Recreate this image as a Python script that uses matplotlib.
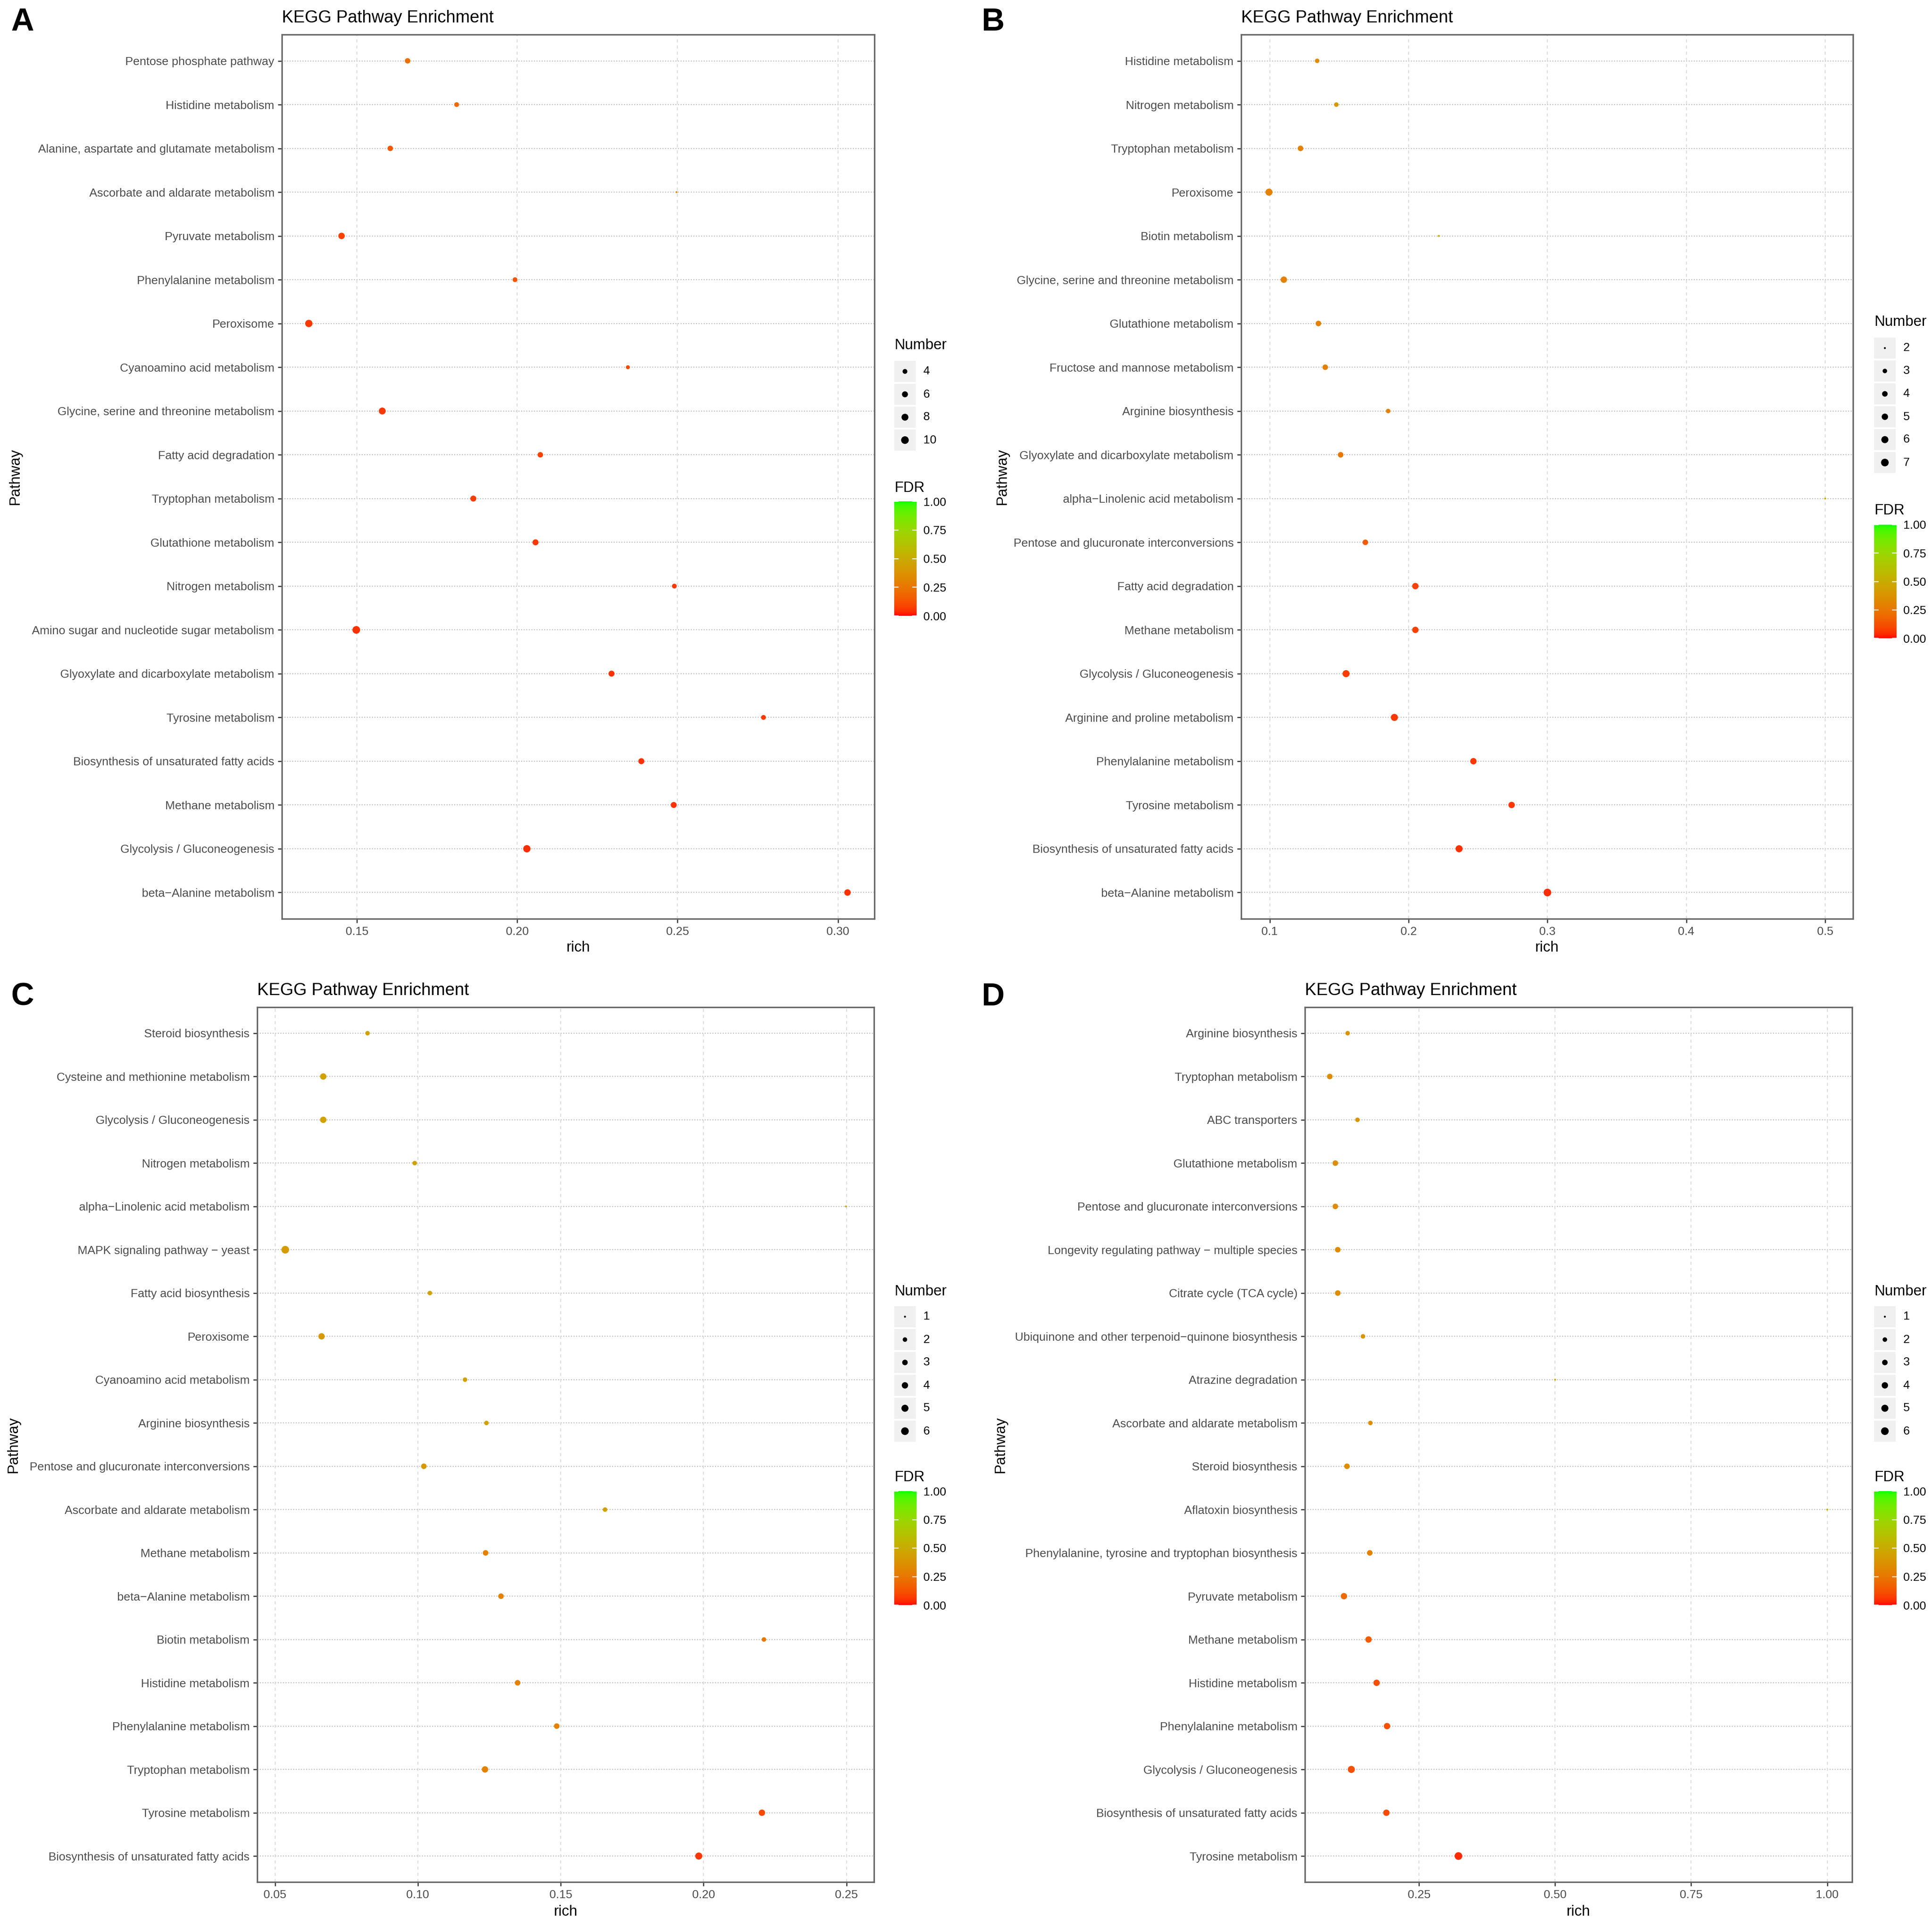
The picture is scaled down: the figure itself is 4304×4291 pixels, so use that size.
import numpy as np
import matplotlib
matplotlib.use("Agg")
import matplotlib.pyplot as plt
from matplotlib.colors import ListedColormap, Normalize
from matplotlib.cm import ScalarMappable
from matplotlib.patches import Rectangle

plt.rcParams['font.family'] = ['Liberation Sans', 'DejaVu Sans']

# ---------------- DATA ----------------
# Panel A (top to bottom)
a_path = ["Pentose phosphate pathway", "Histidine metabolism",
          "Alanine, aspartate and glutamate metabolism", "Ascorbate and aldarate metabolism",
          "Pyruvate metabolism", "Phenylalanine metabolism", "Peroxisome",
          "Cyanoamino acid metabolism", "Glycine, serine and threonine metabolism",
          "Fatty acid degradation", "Tryptophan metabolism", "Glutathione metabolism",
          "Nitrogen metabolism", "Amino sugar and nucleotide sugar metabolism",
          "Glyoxylate and dicarboxylate metabolism", "Tyrosine metabolism",
          "Biosynthesis of unsaturated fatty acids", "Methane metabolism",
          "Glycolysis / Gluconeogenesis", "beta\u2212Alanine metabolism"]
a_rich = [0.1658, 0.1811, 0.1604, 0.2497, 0.1452, 0.1993, 0.1350, 0.2345, 0.1579, 0.2072,
          0.1863, 0.2057, 0.2490, 0.1498, 0.2294, 0.2768, 0.2387, 0.2488, 0.2030, 0.3030]
a_num = [5, 4, 5, 2, 7, 4, 9, 3, 8, 5, 6, 6, 4, 10, 6, 4, 6, 6, 9, 7]
a_fdr = [0.22, 0.20, 0.14, 0.38, 0.08, 0.13, 0.06, 0.10, 0.06, 0.08,
         0.07, 0.06, 0.06, 0.05, 0.05, 0.06, 0.05, 0.05, 0.04, 0.05]
a_xticks = [0.15, 0.20, 0.25, 0.30]
a_xticklabels = ["0.15", "0.20", "0.25", "0.30"]
a_breaks = [4, 6, 8, 10]

# Panel B
b_path = ["Histidine metabolism", "Nitrogen metabolism", "Tryptophan metabolism", "Peroxisome",
          "Biotin metabolism", "Glycine, serine and threonine metabolism",
          "Glutathione metabolism", "Fructose and mannose metabolism", "Arginine biosynthesis",
          "Glyoxylate and dicarboxylate metabolism", "alpha\u2212Linolenic acid metabolism",
          "Pentose and glucuronate interconversions", "Fatty acid degradation",
          "Methane metabolism", "Glycolysis / Gluconeogenesis", "Arginine and proline metabolism",
          "Phenylalanine metabolism", "Tyrosine metabolism",
          "Biosynthesis of unsaturated fatty acids", "beta\u2212Alanine metabolism"]
b_rich = [0.1342, 0.1480, 0.1222, 0.0995, 0.2218, 0.1102, 0.1351, 0.1400, 0.1853, 0.1511,
          0.5000, 0.1689, 0.2049, 0.2049, 0.1550, 0.1898, 0.2467, 0.2742, 0.2364, 0.3000]
b_num = [3, 3, 4, 6, 2, 5, 4, 4, 3, 4, 2, 4, 5, 5, 6, 6, 5, 5, 6, 7]
b_fdr = [0.35, 0.40, 0.30, 0.30, 0.50, 0.30, 0.30, 0.30, 0.30, 0.25,
         0.50, 0.15, 0.08, 0.08, 0.07, 0.06, 0.06, 0.06, 0.05, 0.04]
b_xticks = [0.1, 0.2, 0.3, 0.4, 0.5]
b_xticklabels = ["0.1", "0.2", "0.3", "0.4", "0.5"]
b_breaks = [2, 3, 4, 5, 6, 7]

# Panel C
c_path = ["Steroid biosynthesis", "Cysteine and methionine metabolism",
          "Glycolysis / Gluconeogenesis", "Nitrogen metabolism",
          "alpha\u2212Linolenic acid metabolism", "MAPK signaling pathway \u2212 yeast",
          "Fatty acid biosynthesis", "Peroxisome", "Cyanoamino acid metabolism",
          "Arginine biosynthesis", "Pentose and glucuronate interconversions",
          "Ascorbate and aldarate metabolism", "Methane metabolism", "beta\u2212Alanine metabolism",
          "Biotin metabolism", "Histidine metabolism", "Phenylalanine metabolism",
          "Tryptophan metabolism", "Tyrosine metabolism", "Biosynthesis of unsaturated fatty acids"]
c_rich = [0.0824, 0.0669, 0.0669, 0.0989, 0.2498, 0.0536, 0.1042, 0.0663, 0.1165, 0.1240,
          0.1021, 0.1655, 0.1237, 0.1291, 0.2211, 0.1349, 0.1486, 0.1235, 0.2204, 0.1983]
c_num = [2, 4, 4, 2, 1, 6, 2, 4, 2, 2, 3, 2, 3, 3, 2, 3, 3, 4, 4, 5]
c_fdr = [0.45, 0.45, 0.45, 0.45, 0.50, 0.42, 0.45, 0.40, 0.45, 0.45,
         0.40, 0.45, 0.30, 0.30, 0.25, 0.30, 0.30, 0.30, 0.10, 0.06]
c_xticks = [0.05, 0.10, 0.15, 0.20, 0.25]
c_xticklabels = ["0.05", "0.10", "0.15", "0.20", "0.25"]
c_breaks = [1, 2, 3, 4, 5, 6]

# Panel D
d_path = ["Arginine biosynthesis", "Tryptophan metabolism", "ABC transporters",
          "Glutathione metabolism", "Pentose and glucuronate interconversions",
          "Longevity regulating pathway \u2212 multiple species", "Citrate cycle (TCA cycle)",
          "Ubiquinone and other terpenoid\u2212quinone biosynthesis", "Atrazine degradation",
          "Ascorbate and aldarate metabolism", "Steroid biosynthesis", "Aflatoxin biosynthesis",
          "Phenylalanine, tyrosine and tryptophan biosynthesis", "Pyruvate metabolism",
          "Methane metabolism", "Histidine metabolism", "Phenylalanine metabolism",
          "Glycolysis / Gluconeogenesis", "Biosynthesis of unsaturated fatty acids",
          "Tyrosine metabolism"]
d_rich = [0.1188, 0.0860, 0.1369, 0.0962, 0.0962, 0.1007, 0.1007, 0.1470, 0.5000, 0.1606,
          0.1176, 1.0000, 0.1595, 0.1120, 0.1572, 0.1720, 0.1912, 0.1256, 0.1900, 0.3224]
d_num = [2, 3, 2, 3, 3, 3, 3, 2, 1, 2, 3, 1, 3, 4, 4, 4, 4, 5, 4, 6]
d_fdr = [0.38, 0.35, 0.38, 0.35, 0.35, 0.35, 0.35, 0.38, 0.50, 0.35,
         0.35, 0.55, 0.30, 0.20, 0.15, 0.12, 0.12, 0.12, 0.10, 0.04]
d_xticks = [0.25, 0.50, 0.75, 1.00]
d_xticklabels = ["0.25", "0.50", "0.75", "1.00"]
d_breaks = [1, 2, 3, 4, 5, 6]

fdr_ticks = [0.0, 0.25, 0.5, 0.75, 1.0]
fdr_ticklabels = ["0.00", "0.25", "0.50", "0.75", "1.00"]

# ---------------- colour scale (ggplot-like Lab gradient red -> green) ----------------
_M = np.array([[0.4124564, 0.3575761, 0.1804375],
               [0.2126729, 0.7151522, 0.0721750],
               [0.0193339, 0.1191920, 0.9503041]])
_Minv = np.linalg.inv(_M)
_wp = np.array([0.95047, 1.0, 1.08883])
_d = 6 / 29


def _to_lab(rgb):
    c = np.asarray(rgb, float)
    lin = np.where(c <= 0.04045, c / 12.92, ((c + 0.055) / 1.055) ** 2.4)
    xyz = _M @ lin / _wp
    f = np.where(xyz > _d ** 3, np.cbrt(xyz), xyz / (3 * _d ** 2) + 4 / 29)
    return np.array([116 * f[1] - 16, 500 * (f[0] - f[1]), 200 * (f[1] - f[2])])


def _from_lab(lab):
    L, a, b = lab
    fy = (L + 16) / 116
    f = np.array([fy + a / 500, fy, fy - b / 200])
    xyz = np.where(f > _d, f ** 3, 3 * _d ** 2 * (f - 4 / 29)) * _wp
    lin = np.clip(_Minv @ xyz, 0, 1)
    c = np.where(lin <= 0.0031308, 12.92 * lin, 1.055 * lin ** (1 / 2.4) - 0.055)
    return np.clip(c, 0, 1)


_lo, _hi = _to_lab([1, 0, 0]), _to_lab([0, 1, 0])
cmap = ListedColormap([_from_lab(_lo + t * (_hi - _lo)) for t in np.linspace(0, 1, 256)])
norm = Normalize(0, 1)

# ---------------- layout ----------------
W, H = 4304, 4291
DPI = 300
fig = plt.figure(figsize=(W / DPI, H / DPI), dpi=DPI)
fig.patch.set_facecolor("white")


def fx(x):
    return x / W


def fy(y):
    return 1 - y / H


TICK_FS = 6.3
TITLE_FS = 9.2
AXT_FS = 7.9
GREY30 = "#4D4D4D"
K = 2.55  # px per ggplot size unit


def sizes(vals, lo, hi):
    v = np.asarray(vals, float)
    d_units = 1 + 5 * np.sqrt((v - lo) / (hi - lo)) + 0.7
    d_pt = d_units * K * 72 / DPI
    return d_pt ** 2


def panel(path, rich, num, fdr, xticks, xticklabels, breaks, letter, L):
    x0, y0, x1, y1 = L["ax"]
    ax = fig.add_axes([fx(x0), fy(y1), fx(x1 - x0), (y1 - y0) / H])
    n = len(path)
    ypos = np.arange(n)[::-1]
    lo, hi = min(num), max(num)
    ax.set_axisbelow(True)
    ax.scatter(rich, ypos, s=sizes(num, lo, hi), c=fdr, cmap=cmap, norm=norm,
               edgecolors="none", zorder=3)
    rmin, rmax = min(rich), max(rich)
    pad = 0.05 * (rmax - rmin)
    ax.set_xlim(rmin - pad, rmax + pad)
    ax.set_ylim(-0.6, n - 1 + 0.6)
    ax.set_yticks(ypos)
    ax.set_yticklabels(path)
    ax.set_xticks(xticks)
    ax.set_xticklabels(xticklabels)
    ax.tick_params(axis="both", labelsize=TICK_FS, labelcolor=GREY30, color="#333333",
                   length=2.2, width=0.6, pad=1.8)
    for y in ypos:
        ax.axhline(y, color="#BDBDBD", lw=0.55, ls=(0, (1, 1.5)), zorder=1)
    for xt in xticks:
        ax.axvline(xt, color="#DDDDDD", lw=0.55, ls=(0, (3, 3)), zorder=1)
    for sp in ax.spines.values():
        sp.set_color("#666666")
        sp.set_linewidth(0.8)
    # texts
    tx, ty = L["title"]
    fig.text(fx(tx), fy(ty), "KEGG Pathway Enrichment", fontsize=TITLE_FS,
             ha="left", va="center", color="black")
    lx, ly = L["letter"]
    fig.text(fx(lx), fy(ly), letter, fontsize=17, fontweight="bold",
             ha="left", va="center", color="black")
    fig.text(fx(L["ylab"]), fy((y0 + y1) / 2), "Pathway", fontsize=AXT_FS,
             rotation=90, ha="center", va="center", color="black")
    fig.text(fx((x0 + x1) / 2), fy(L["xlab"]), "rich", fontsize=AXT_FS,
             ha="center", va="center", color="black")
    # size legend
    gx = L["leg_x"]
    fig.text(fx(gx), fy(L["num_title"]), "Number", fontsize=AXT_FS,
             ha="left", va="center", color="black")
    rows = len(breaks)
    rh = 51
    ktop = L["key_top"]
    lax = fig.add_axes([fx(gx), fy(ktop + rows * rh), fx(48), rows * rh / H])
    lax.set_xlim(0, 1)
    lax.set_ylim(rows, 0)
    lax.axis("off")
    for i, bv in enumerate(breaks):
        lax.add_patch(Rectangle((0, i + 0.03), 1, 0.94, fc="#F0F0F0", ec="none"))
        lax.text(1.35, i + 0.5, str(bv), fontsize=TICK_FS, ha="left", va="center",
                 color="black")
    lax.scatter([0.5] * rows, np.arange(rows) + 0.5, s=sizes(breaks, lo, hi),
                c="black", edgecolors="none", clip_on=False)
    # colour legend
    fig.text(fx(gx), fy(L["fdr_title"]), "FDR", fontsize=AXT_FS,
             ha="left", va="center", color="black")
    bt, bb = L["bar"]
    cax = fig.add_axes([fx(gx), fy(bb), fx(50), (bb - bt) / H])
    cb = fig.colorbar(ScalarMappable(norm=norm, cmap=cmap), cax=cax, ticks=fdr_ticks)
    cb.set_ticklabels(fdr_ticklabels)
    cb.outline.set_visible(False)
    cax.yaxis.set_ticks_position("both")
    cax.tick_params(axis="y", direction="in", length=2.4, width=0.5, color="white",
                    labelsize=TICK_FS, pad=3.5, labelleft=False, labelright=True)
    return ax


LAYOUT = {
    "A": dict(ax=(628, 77, 1948, 2047), title=(628, 40), letter=(24, 50), ylab=34,
              xlab=2112, leg_x=1992, num_title=769, key_top=802, fdr_title=1088,
              bar=(1117, 1372)),
    "B": dict(ax=(2765, 77, 4128, 2047), title=(2765, 40), letter=(2186, 50), ylab=2233,
              xlab=2112, leg_x=4175, num_title=717, key_top=750, fdr_title=1138,
              bar=(1169, 1422)),
    "C": dict(ax=(573, 2244, 1947, 4193), title=(573, 2207), letter=(24, 2222), ylab=30,
              xlab=4260, leg_x=1992, num_title=2878, key_top=2908, fdr_title=3292,
              bar=(3322, 3576)),
    "D": dict(ax=(2907, 2244, 4126, 4193), title=(2907, 2207), letter=(2186, 2222), ylab=2229,
              xlab=4260, leg_x=4175, num_title=2878, key_top=2908, fdr_title=3292,
              bar=(3322, 3576)),
}

panel(a_path, a_rich, a_num, a_fdr, a_xticks, a_xticklabels, a_breaks, "A", LAYOUT["A"])
panel(b_path, b_rich, b_num, b_fdr, b_xticks, b_xticklabels, b_breaks, "B", LAYOUT["B"])
panel(c_path, c_rich, c_num, c_fdr, c_xticks, c_xticklabels, c_breaks, "C", LAYOUT["C"])
panel(d_path, d_rich, d_num, d_fdr, d_xticks, d_xticklabels, d_breaks, "D", LAYOUT["D"])

fig.savefig("out.png", dpi=DPI, facecolor="white")
